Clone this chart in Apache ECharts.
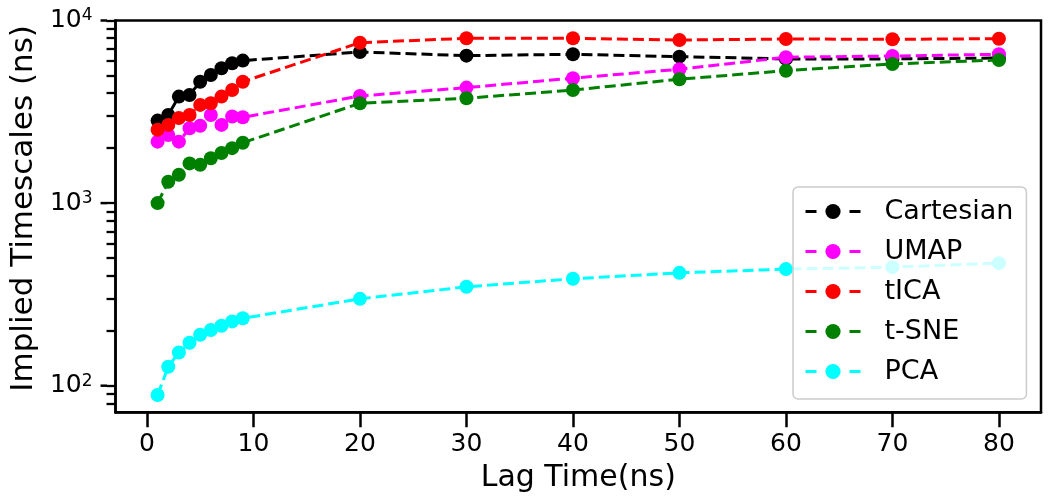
<!DOCTYPE html>
<html>
<head>
<meta charset="utf-8">
<script src="https://cdn.jsdelivr.net/npm/echarts@6/dist/echarts.min.js"></script>
<style>html,body{margin:0;padding:0;background:#fff;}#c{width:1050px;height:502px;}</style>
</head>
<body>
<div id="c"></div>
<script>
const lagTimes = [1, 2, 3, 4, 5, 6, 7, 8, 9, 20, 30, 40, 50, 60, 70, 80];
const cartesian = [2830, 3040, 3830, 3910, 4620, 5030, 5480, 5830, 6030, 6720, 6420, 6530, 6340, 6160, 6160, 6230];
const umap = [2170, 2360, 2170, 2570, 2650, 3040, 2680, 2980, 2950, 3860, 4290, 4830, 5410, 6290, 6390, 6530];
const tica = [2520, 2680, 2920, 3040, 3450, 3520, 3830, 4160, 4620, 7560, 7990, 7990, 7820, 7920, 7890, 7950];
const tsne = [1000, 1310, 1430, 1650, 1620, 1760, 1880, 2000, 2140, 3520, 3750, 4160, 4770, 5310, 5780, 6080];
const pca = [89, 127, 152, 172, 190, 202, 213, 225, 234, 299, 348, 385, 415, 435, 446, 469];
const xTicks = [0, 10, 20, 30, 40, 50, 60, 70, 80];
const yMajorTicks = [100, 1000, 10000];
const yMinorTicks = [80, 90, 200, 300, 400, 500, 600, 700, 800, 900, 2000, 3000, 4000, 5000, 6000, 7000, 8000, 9000];

const seriesDefs = [
  ['Cartesian', cartesian, '#000000'],
  ['UMAP', umap, '#ff00ff'],
  ['tICA', tica, '#ff0000'],
  ['t-SNE', tsne, '#008000'],
  ['PCA', pca, '#00ffff']
];

const chart = echarts.init(document.getElementById('c'), null, {renderer: 'canvas'});
const font = 'DejaVu Sans';
const supMap = {'100': 2, '1000': 3, '10000': 4};
const yMin = 71.5, yMax = 10000;

chart.setOption({
  animation: false,
  backgroundColor: '#ffffff',
  grid: {left: 112, right: 9, top: 20.5, bottom: 89.7, show: true, borderColor: '#000', borderWidth: 2.5, backgroundColor: 'transparent'},
  legend: {
    orient: 'vertical',
    left: 793, top: 187,
    padding: [11, 13, 14, 11],
    itemWidth: 55, itemHeight: 19, itemGap: 13,
    backgroundColor: 'rgba(255,255,255,0.8)',
    borderColor: '#cccccc', borderWidth: 1.5, borderRadius: 5,
    lineStyle: {type: [11, 11], width: 3},
    textStyle: {fontFamily: font, fontSize: 27, color: '#000', lineHeight: 27, padding: [0, 0, 0, 19]},
    data: seriesDefs.map(d => d[0])
  },
  xAxis: {
    type: 'value', min: -2.95, max: 83.95,
    name: 'Lag Time(ns)', nameLocation: 'middle', nameGap: 51,
    nameTextStyle: {fontFamily: font, fontSize: 30, color: '#000'},
    axisLine: {show: true, onZero: false, lineStyle: {color: '#000', width: 2.5}},
    axisTick: {show: true, length: 15, lineStyle: {color: '#000', width: 2.5}, customValues: xTicks},
    axisLabel: {fontFamily: font, fontSize: 25, color: '#000', margin: 20, customValues: xTicks},
    splitLine: {show: false}
  },
  yAxis: {
    type: 'log', min: yMin, max: yMax, position: 'left',
    name: 'Implied Timescales (ns)', nameLocation: 'middle', nameGap: 75,
    nameTextStyle: {fontFamily: font, fontSize: 31, color: '#000', padding: [0, 0, 0, 16]},
    axisLine: {show: true, onZero: false, lineStyle: {color: '#000', width: 2.5}},
    axisTick: {show: true, length: 9, lineStyle: {color: '#000', width: 2.3}, customValues: yMajorTicks.concat(yMinorTicks)},
    axisLabel: {
      margin: 8.5, customValues: yMajorTicks,
      formatter: v => '{b|10}{s|' + supMap[String(Math.round(v))] + '}{g|}{t|}',
      rich: {
        b: {fontFamily: font, fontSize: 25, color: '#000', lineHeight: 26},
        s: {fontFamily: font, fontSize: 17, color: '#000', lineHeight: 17, verticalAlign: 'top'},
        g: {width: 8, height: 2},
        t: {width: 6.5, height: 2.5, backgroundColor: '#000'}
      }
    },
    splitLine: {show: false}
  },
  series: seriesDefs.map(d => ({
    name: d[0], type: 'line',
    data: lagTimes.map((x, i) => [x, d[1][i]]),
    symbol: 'circle', symbolSize: 14,
    itemStyle: {color: d[2]},
    lineStyle: {color: d[2], width: 3, type: [11, 5]},
    emphasis: {disabled: true}
  }))
});
</script>
</body>
</html>
